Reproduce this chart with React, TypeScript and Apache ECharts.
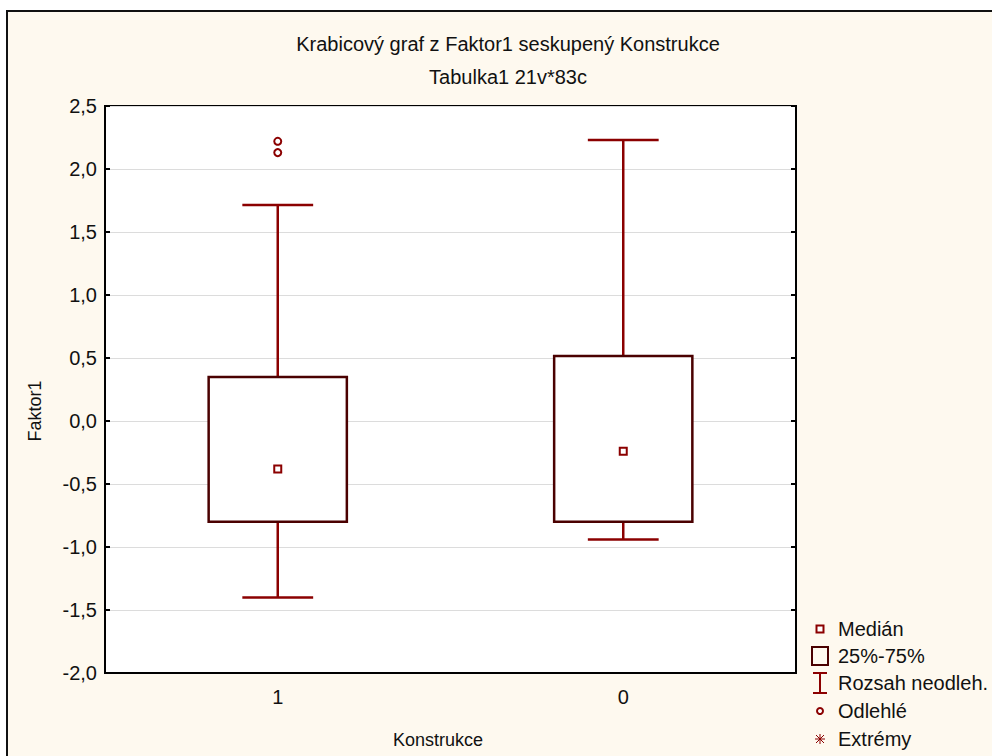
import React, { useEffect, useRef } from "react";
import * as echarts from "echarts";

// ---- data ----
const categories = ["1", "0"];
const whiskerMin = [-1.40, -0.94];
const quartile1 = [-0.80, -0.80];
const quartile3 = [0.35, 0.515];
const whiskerMax = [1.715, 2.23];
const medians = [-0.38, -0.24];
const outlierCat = [0, 0];
const outlierVal = [2.22, 2.13];
const yTicks = { min: -2.0, max: 2.5, step: 0.5 };

const titleText = "Krabicový graf z Faktor1 seskupený Konstrukce";
const subtitleText = "Tabulka1 21v*83c";
const yName = "Faktor1";
const xName = "Konstrukce";
const legendLabels = ["Medián", "25%-75%", "Rozsah neodleh.", "Odlehlé", "Extrémy"];

const FONT = "'Liberation Sans', Arial, sans-serif";
const WHISK = "#8b0000";
const BOX = "#4a0000";
const FS = 20;
const NAME_FS = 18;

export default function App() {
  const ref = useRef<HTMLDivElement>(null);

  useEffect(() => {
    if (!ref.current) return;
    const chart = echarts.init(ref.current, null, { renderer: "svg" });

    const boxData = categories.map((_, i) => [
      i,
      whiskerMin[i],
      quartile1[i],
      quartile3[i],
      whiskerMax[i],
    ]);
    const medianData = categories.map((_, i) => [i, medians[i]]);
    const outlierData = outlierCat.map((c, i) => [c, outlierVal[i]]);

    const renderBox = (params: any, api: any) => {
      const idx = api.value(0);
      const pMin = api.coord([idx, api.value(1)]);
      const pQ1 = api.coord([idx, api.value(2)]);
      const pQ3 = api.coord([idx, api.value(3)]);
      const pMax = api.coord([idx, api.value(4)]);
      const band = api.size([1, 0])[0];
      const boxW = band * 0.4;
      const capW = band * 0.205;
      const x = pQ1[0];
      const lineStyle = { stroke: WHISK, lineWidth: 2.5 };
      return {
        type: "group",
        children: [
          { type: "line", shape: { x1: x, y1: pMax[1], x2: x, y2: pQ3[1] }, style: lineStyle },
          { type: "line", shape: { x1: x, y1: pQ1[1], x2: x, y2: pMin[1] }, style: lineStyle },
          { type: "line", shape: { x1: x - capW / 2, y1: pMax[1], x2: x + capW / 2, y2: pMax[1] }, style: lineStyle },
          { type: "line", shape: { x1: x - capW / 2, y1: pMin[1], x2: x + capW / 2, y2: pMin[1] }, style: lineStyle },
          {
            type: "rect",
            shape: { x: x - boxW / 2, y: pQ3[1], width: boxW, height: pQ1[1] - pQ3[1] },
            style: { fill: "#ffffff", stroke: BOX, lineWidth: 2.5 },
          },
        ],
      };
    };

    const lx = 820;
    const ly = [629, 656, 683, 711, 739];
    const legendGraphics: any[] = [
      { type: "rect", shape: { x: lx - 3.5, y: ly[0] - 3.5, width: 7, height: 7 }, style: { fill: "#fff", stroke: WHISK, lineWidth: 2 } },
      { type: "rect", shape: { x: lx - 8, y: ly[1] - 9, width: 16, height: 18 }, style: { fill: "none", stroke: BOX, lineWidth: 2 } },
      { type: "line", shape: { x1: lx, y1: ly[2] - 10, x2: lx, y2: ly[2] + 10 }, style: { stroke: WHISK, lineWidth: 2 } },
      { type: "line", shape: { x1: lx - 7, y1: ly[2] - 10, x2: lx + 7, y2: ly[2] - 10 }, style: { stroke: WHISK, lineWidth: 2 } },
      { type: "line", shape: { x1: lx - 7, y1: ly[2] + 10, x2: lx + 7, y2: ly[2] + 10 }, style: { stroke: WHISK, lineWidth: 2 } },
      { type: "circle", shape: { cx: lx, cy: ly[3], r: 3 }, style: { fill: "#fff", stroke: WHISK, lineWidth: 2 } },
      { type: "line", shape: { x1: lx, y1: ly[4] - 5, x2: lx, y2: ly[4] + 5 }, style: { stroke: WHISK, lineWidth: 1 } },
      { type: "line", shape: { x1: lx - 5, y1: ly[4], x2: lx + 5, y2: ly[4] }, style: { stroke: WHISK, lineWidth: 1 } },
      { type: "line", shape: { x1: lx - 4, y1: ly[4] - 4, x2: lx + 4, y2: ly[4] + 4 }, style: { stroke: WHISK, lineWidth: 1 } },
      { type: "line", shape: { x1: lx - 4, y1: ly[4] + 4, x2: lx + 4, y2: ly[4] - 4 }, style: { stroke: WHISK, lineWidth: 1 } },
    ];
    legendLabels.forEach((t, i) => {
      legendGraphics.push({
        type: "text",
        x: 838,
        y: ly[i],
        style: { text: t, fill: "#111", font: `${FS}px ${FONT}`, textVerticalAlign: "middle", textAlign: "left" },
      });
    });

    const fmt = (v: number) => v.toFixed(1).replace(".", ",");

    chart.setOption({
      animation: false,
      textStyle: { fontFamily: FONT },
      grid: {
        left: 105,
        top: 106,
        right: 196,
        bottom: 83,
        show: true,
        backgroundColor: "#ffffff",
        borderColor: "#000",
        borderWidth: 2,
      },
      xAxis: {
        type: "category",
        data: categories,
        boundaryGap: true,
        axisLine: { onZero: false, lineStyle: { color: "#000", width: 2 } },
        axisTick: { inside: true, alignWithLabel: true, length: 5, lineStyle: { color: "#000", width: 2 } },
        axisLabel: { color: "#111", fontSize: FS, margin: 14, fontFamily: FONT },
        splitLine: { show: false },
      },
      yAxis: [
        {
          type: "value",
          min: yTicks.min,
          max: yTicks.max,
          interval: yTicks.step,
          axisLine: { show: true, onZero: false, lineStyle: { color: "#000", width: 2 } },
          axisTick: { show: true, inside: true, length: 5, lineStyle: { color: "#000", width: 2 } },
          axisLabel: { color: "#111", fontSize: FS, margin: 8, formatter: fmt, fontFamily: FONT },
          splitLine: { show: true, lineStyle: { color: "#dcdcdc", width: 1 } },
        },
        {
          type: "value",
          position: "right",
          min: yTicks.min,
          max: yTicks.max,
          interval: yTicks.step,
          axisLine: { show: true, onZero: false, lineStyle: { color: "#000", width: 2 } },
          axisTick: { show: true, inside: true, length: 5, lineStyle: { color: "#000", width: 2 } },
          axisLabel: { show: false },
          splitLine: { show: false },
        },
      ],
      graphic: [
        {
          type: "text",
          x: 508,
          y: 44,
          style: { text: titleText, fill: "#111", font: `${FS}px ${FONT}`, textAlign: "center", textVerticalAlign: "middle" },
        },
        {
          type: "text",
          x: 508,
          y: 77,
          style: { text: subtitleText, fill: "#111", font: `${FS}px ${FONT}`, textAlign: "center", textVerticalAlign: "middle" },
        },
        {
          type: "text",
          x: 35,
          y: 411,
          rotation: Math.PI / 2,
          style: { text: yName, fill: "#111", font: `${NAME_FS}px ${FONT}`, textAlign: "center", textVerticalAlign: "middle" },
        },
        {
          type: "text",
          x: 438,
          y: 740,
          style: { text: xName, fill: "#111", font: `${NAME_FS}px ${FONT}`, textAlign: "center", textVerticalAlign: "middle" },
        },
        ...legendGraphics,
      ],
      series: [
        {
          type: "custom",
          renderItem: renderBox,
          data: boxData,
          encode: { x: 0, y: [1, 2, 3, 4] },
          z: 3,
        },
        {
          type: "scatter",
          data: medianData,
          symbol: "rect",
          symbolSize: 7,
          itemStyle: { color: "#ffffff", borderColor: WHISK, borderWidth: 2, opacity: 1 },
          z: 5,
        },
        {
          type: "scatter",
          data: outlierData,
          symbol: "circle",
          symbolSize: 7,
          itemStyle: { color: "#ffffff", borderColor: WHISK, borderWidth: 2, opacity: 1 },
          z: 5,
        },
      ],
    });

    return () => chart.dispose();
  }, []);

  return (
    <div style={{ position: "fixed", left: 0, top: 0, width: 992, height: 756, background: "#ffffff", overflow: "hidden" }}>
      <div
        style={{
          position: "absolute",
          left: 6,
          top: 10,
          width: 1000,
          height: 760,
          border: "2px solid #111",
          background: "#fef9ef",
        }}
      />
      <div ref={ref} style={{ position: "absolute", left: 0, top: 0, width: 992, height: 756 }} />
    </div>
  );
}
